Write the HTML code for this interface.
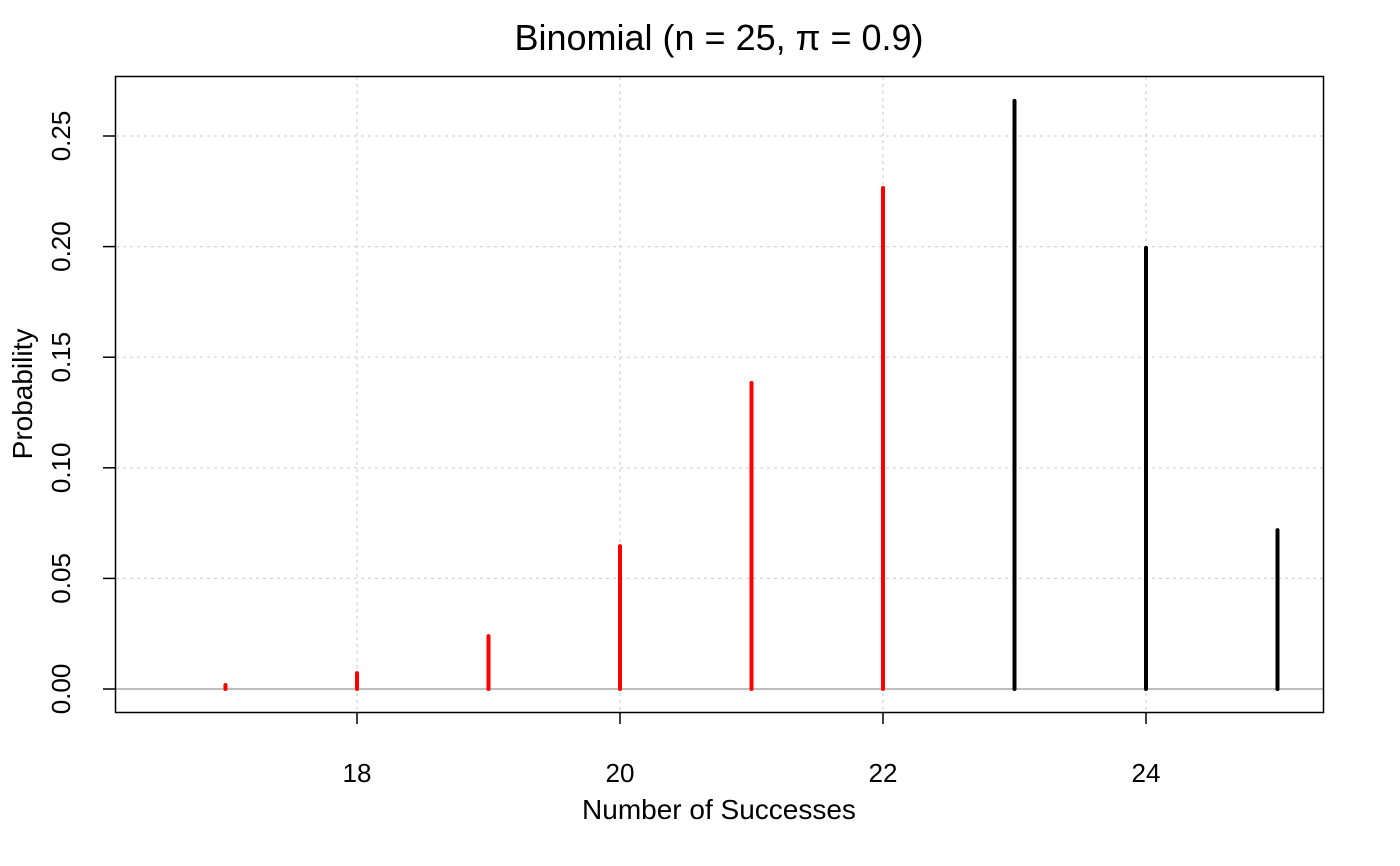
<!DOCTYPE html>
<html><head><meta charset="utf-8">
<style>
html,body{margin:0;padding:0;background:#fff;}
svg{display:block;font-family:"Liberation Sans","DejaVu Sans",sans-serif;}
</style></head>
<body>
<svg id="chart" width="1400" height="866" xmlns="http://www.w3.org/2000/svg">
<text x="719" y="50" font-size="36" text-anchor="middle">Binomial (n = 25, π = 0.9)</text>
<g id="grid"></g>
<g id="bars"></g>
<rect x="115.5" y="76.5" width="1208" height="636" fill="none" stroke="#000" stroke-width="1.5"/>
<g id="xaxis"></g>
<g id="yaxis"></g>
<text x="719" y="819" font-size="28" text-anchor="middle">Number of Successes</text>
<text x="0" y="0" font-size="28" text-anchor="middle" transform="translate(32,394) rotate(-90)">Probability</text>
</svg>
<script>
const categories=[17,18,19,20,21,22,23,24,25];
const probs=[0.0018,0.0072,0.0239,0.0646,0.1384,0.2265,0.2659,0.1994,0.0718];
const colors=["red","red","red","red","red","red","black","black","black"];
const xTicks=[18,20,22,24];
const yTicks=[0,0.05,0.10,0.15,0.20,0.25];
const yTickLabels=["0.00","0.05","0.10","0.15","0.20","0.25"];
const NS="http://www.w3.org/2000/svg";
function X(v){return 357+(v-18)*131.5;}
function Y(v){return 689-v*2212;}
function mk(t,a,p){const e=document.createElementNS(NS,t);for(const k in a)e.setAttribute(k,a[k]);p.appendChild(e);return e;}
const grid=document.getElementById('grid'),bars=document.getElementById('bars'),xa=document.getElementById('xaxis'),ya=document.getElementById('yaxis');
xTicks.forEach(v=>{
  const l=mk('line',{x1:X(v),x2:X(v),y1:77,y2:712,stroke:'#d3d3d3','stroke-dasharray':'3,4','stroke-width':1.2},grid);
  
  
  const t=mk('line',{x1:X(v),x2:X(v),y1:712,y2:724,stroke:'#000','stroke-width':1.5},xa);
  
  
  const s=mk('text',{x:X(v),y:782,'font-size':26,'text-anchor':'middle'},xa);s.textContent=v;
  
  
});
yTicks.forEach((v,i)=>{
  if(v>0){const l=mk('line',{x1:116,x2:1323,y1:Y(v),y2:Y(v),stroke:'#d3d3d3','stroke-dasharray':'3,4','stroke-width':1.2},grid);
  
  }
  const t=mk('line',{x1:103,x2:115,y1:Y(v),y2:Y(v),stroke:'#000','stroke-width':1.5},ya);
  
  
  const s=mk('text',{x:0,y:0,'font-size':26,'text-anchor':'middle',transform:`translate(70,${Y(v)}) rotate(-90)`},ya);s.textContent=yTickLabels[i];
  
  
});
const base=mk('line',{x1:116,x2:1323,y1:Y(0),y2:Y(0),stroke:'#bebebe','stroke-width':2},grid);


categories.forEach((c,i)=>{
  const b=mk('line',{x1:X(c),x2:X(c),y1:Y(0),y2:Y(probs[i]),stroke:colors[i],'stroke-width':4,'stroke-linecap':'round'},bars);
  
  
});
</script>
</body></html>
